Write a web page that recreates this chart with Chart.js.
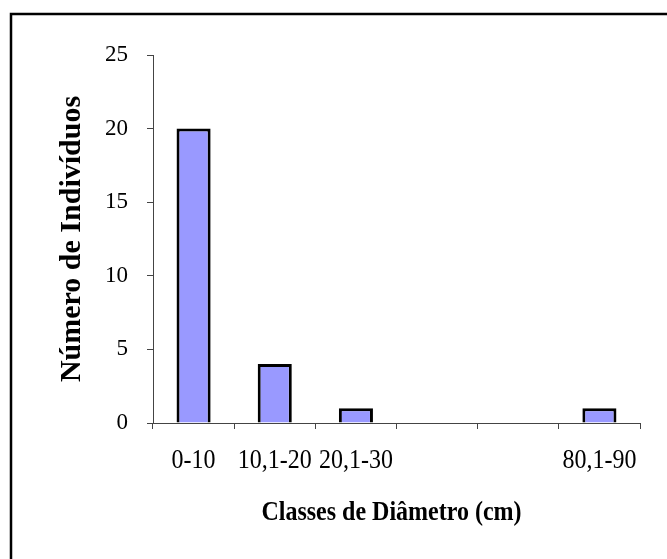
<!DOCTYPE html>
<html>
<head>
<meta charset="utf-8">
<script src="https://cdn.jsdelivr.net/npm/chart.js@4"></script>
<style>
  html, body { margin: 0; padding: 0; background: #fff; }
  canvas { display: block; }
</style>
</head>
<body>
<canvas id="grafica" width="667" height="559"></canvas>
<script>
// Dados
const classes = ['0-10', '10,1-20', '20,1-30', '', '', '80,1-90'];
const individuos = [20, 4, 1, null, null, 1];
const yMin = 0;
const yMax = 25;
const yPasso = 5;

const tituloX = 'Classes de Diâmetro (cm)';
const tituloY = 'Número de Indivíduos';

const fonte = "'Liberation Serif', 'Times New Roman', serif";

// moldura (só topo e esquerda aparecem no recorte)
const moldura = {
  id: 'moldura',
  afterDraw(chart) {
    const c = chart.ctx;
    c.save();
    c.strokeStyle = '#000';
    c.lineWidth = 2.5;
    c.beginPath();
    c.moveTo(11, 600);
    c.lineTo(11, 14);
    c.lineTo(700, 14);
    c.stroke();
    c.restore();
  }
};

// rótulos do eixo x um pouco esticados na vertical, como no original
const rotulosX = {
  id: 'rotulosX',
  afterDraw(chart) {
    const xs = chart.scales.x;
    const c = chart.ctx;
    c.save();
    c.fillStyle = '#000';
    c.textAlign = 'center';
    c.textBaseline = 'middle';
    c.font = '24px ' + fonte;
    xs.ticks.forEach((t, i) => {
      const lbl = xs.getLabelForValue(t.value);
      if (!lbl) return;
      c.save();
      c.translate(xs.getPixelForTick(i), xs.top + 38);
      c.scale(1, 1.1);
      c.fillText(lbl, 0, 0);
      c.restore();
    });
    c.font = 'bold 24px ' + fonte;
    c.translate((xs.left + xs.right) / 2 - 5, xs.top + 90);
    c.scale(1, 1.15);
    c.fillText(tituloX, 0, 0);
    c.restore();
  }
};

const ctx = document.getElementById('grafica').getContext('2d');

new Chart(ctx, {
  type: 'bar',
  data: {
    labels: classes,
    datasets: [{
      data: individuos,
      backgroundColor: '#9999FF',
      borderColor: '#000',
      borderWidth: 3,
      barPercentage: 0.42,
      categoryPercentage: 1
    }]
  },
  options: {
    responsive: false,
    animation: false,
    devicePixelRatio: 1,
    layout: { padding: { top: 55, right: 27, left: 0, bottom: 0 } },
    plugins: {
      legend: { display: false },
      tooltip: { enabled: false }
    },
    scales: {
      x: {
        offset: true,
        grid: { offset: true, drawOnChartArea: false, drawTicks: true, tickLength: 6, color: '#444' },
        border: { color: '#444', width: 1 },
        ticks: { display: false, autoSkip: false },
        title: { display: false, text: tituloX },
        afterFit(s) { s.height = 136; }
      },
      y: {
        min: yMin,
        max: yMax,
        grid: { drawOnChartArea: false, drawTicks: true, tickLength: 6, color: '#444' },
        border: { color: '#444', width: 1 },
        ticks: {
          stepSize: yPasso,
          color: '#000',
          font: { family: fonte, size: 23 },
          padding: 19
        },
        title: {
          display: true,
          text: tituloY,
          color: '#000',
          font: { family: fonte, size: 30, weight: 'bold' },
          padding: { top: 54, bottom: 0 }
        },
        afterFit(s) { s.width = 153; }
      }
    }
  },
  plugins: [moldura, rotulosX]
});
</script>
</body>
</html>
